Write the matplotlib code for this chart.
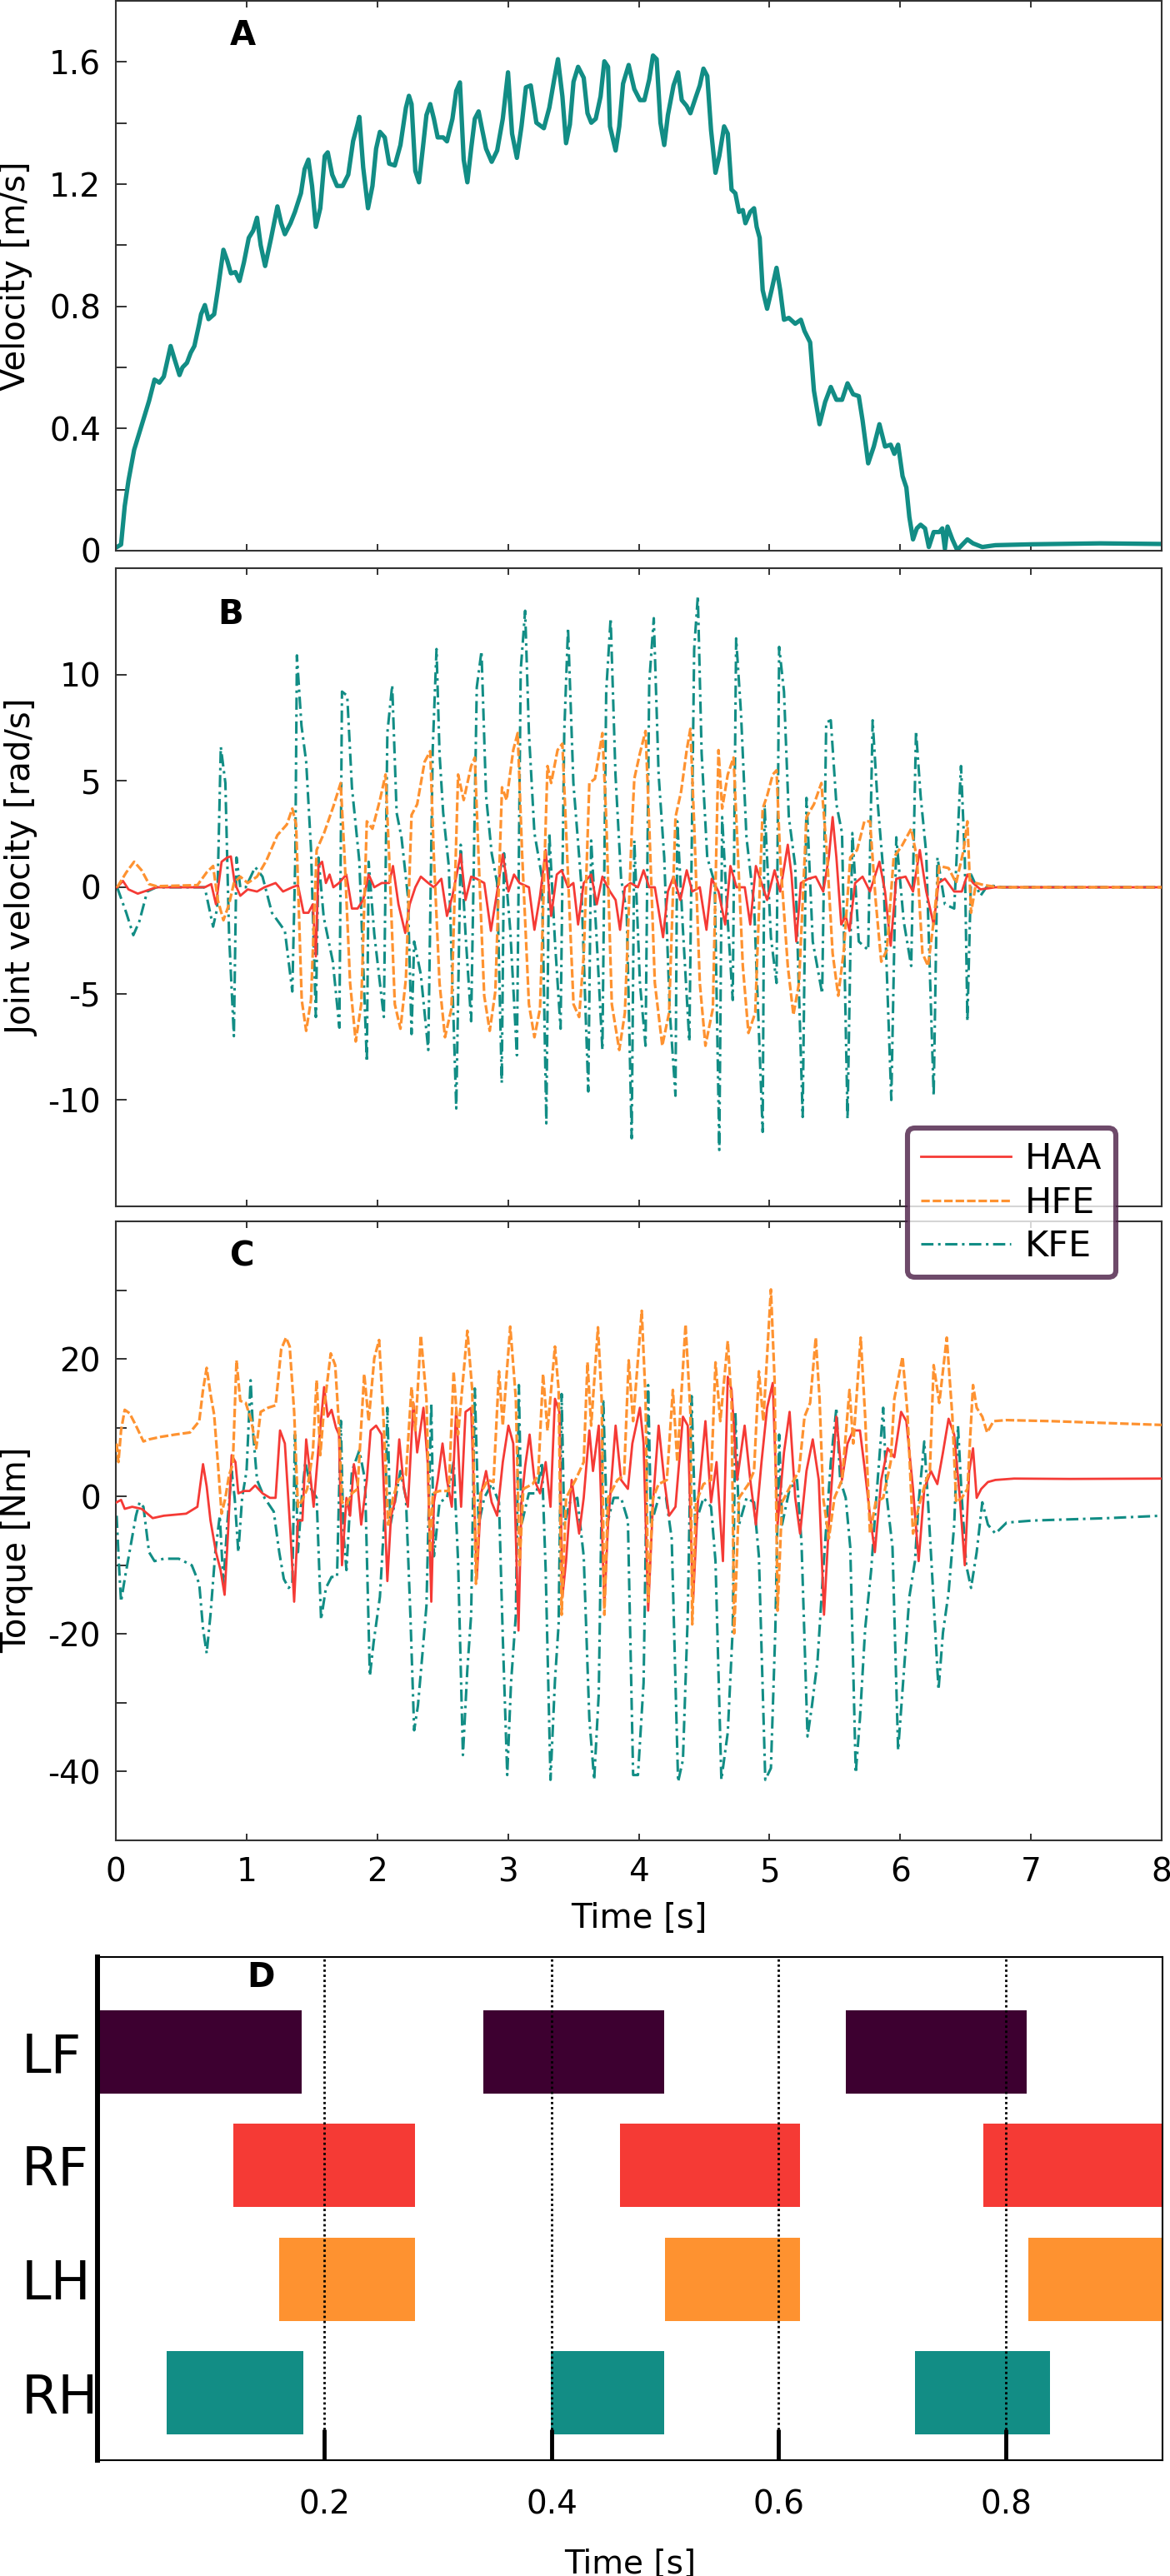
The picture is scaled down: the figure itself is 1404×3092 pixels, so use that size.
import matplotlib
matplotlib.use("Agg")
import matplotlib.pyplot as plt
from matplotlib.lines import Line2D

plt.rcParams["font.family"] = "DejaVu Sans"
plt.rcParams["axes.unicode_minus"] = False

W, H = 1404, 3092
TEAL = "#128d85"
RED = "#f53a35"
ORANGE = "#fe9230"
PLUM = "#3d0030"
SPINE = "#333333"

# ── Panel A: body velocity [m/s] (time, value) ──────────────────────────────
vel = [
    (0.0, 0.01), (0.04, 0.02), (0.068, 0.146), (0.097, 0.23), (0.14, 0.33), (0.197, 0.41),
    (0.254, 0.49), (0.296, 0.56), (0.333, 0.55), (0.367, 0.57), (0.419, 0.67), (0.447, 0.63),
    (0.487, 0.575), (0.51, 0.60), (0.544, 0.615), (0.573, 0.648), (0.601, 0.67), (0.638, 0.743),
    (0.652, 0.774), (0.681, 0.804), (0.709, 0.758), (0.752, 0.774), (0.78, 0.853), (0.823, 0.985),
    (0.852, 0.95), (0.88, 0.908), (0.915, 0.912), (0.946, 0.883), (0.98, 0.944), (1.017, 1.024),
    (1.051, 1.048), (1.08, 1.09), (1.108, 1.0), (1.142, 0.932), (1.188, 1.024), (1.236, 1.127),
    (1.265, 1.072), (1.293, 1.036), (1.336, 1.072), (1.37, 1.109), (1.416, 1.17), (1.444, 1.249),
    (1.473, 1.28), (1.501, 1.194), (1.53, 1.06), (1.564, 1.121), (1.598, 1.292), (1.621, 1.304),
    (1.655, 1.231), (1.692, 1.194), (1.735, 1.194), (1.778, 1.231), (1.815, 1.341), (1.849, 1.395),
    (1.863, 1.42), (1.892, 1.255), (1.929, 1.121), (1.963, 1.194), (1.991, 1.316), (2.02, 1.371),
    (2.057, 1.353), (2.091, 1.267), (2.134, 1.261), (2.177, 1.328), (2.219, 1.45), (2.242, 1.489),
    (2.262, 1.462), (2.291, 1.243), (2.319, 1.206), (2.348, 1.316), (2.376, 1.426), (2.405, 1.462),
    (2.433, 1.414), (2.462, 1.353), (2.504, 1.353), (2.533, 1.34), (2.575, 1.414), (2.604, 1.505),
    (2.632, 1.533), (2.661, 1.28), (2.689, 1.206), (2.718, 1.316), (2.746, 1.414), (2.775, 1.438),
    (2.803, 1.377), (2.832, 1.316), (2.875, 1.273), (2.917, 1.31), (2.96, 1.414), (2.983, 1.5),
    (3.0, 1.566), (3.031, 1.365), (3.068, 1.286), (3.103, 1.389), (3.137, 1.517), (3.174, 1.523),
    (3.217, 1.401), (3.274, 1.383), (3.316, 1.45), (3.353, 1.542), (3.382, 1.609), (3.416, 1.487),
    (3.444, 1.334), (3.473, 1.395), (3.501, 1.535), (3.536, 1.584), (3.579, 1.548), (3.608, 1.432),
    (3.637, 1.401), (3.671, 1.414), (3.708, 1.487), (3.737, 1.602), (3.765, 1.584), (3.78, 1.389),
    (3.823, 1.31), (3.851, 1.389), (3.88, 1.529), (3.923, 1.59), (3.966, 1.511), (4.009, 1.475),
    (4.043, 1.475), (4.08, 1.542), (4.109, 1.621), (4.137, 1.609), (4.166, 1.401), (4.195, 1.328),
    (4.223, 1.426), (4.266, 1.523), (4.301, 1.566), (4.329, 1.475), (4.366, 1.456), (4.395, 1.432),
    (4.438, 1.487), (4.467, 1.523), (4.495, 1.578), (4.524, 1.554), (4.553, 1.377), (4.587, 1.237),
    (4.616, 1.292), (4.653, 1.389), (4.681, 1.365), (4.71, 1.182), (4.739, 1.17), (4.767, 1.109),
    (4.796, 1.115), (4.816, 1.072), (4.853, 1.109), (4.882, 1.121), (4.902, 1.06), (4.925, 1.024),
    (4.948, 0.853), (4.982, 0.792), (5.016, 0.853), (5.054, 0.926), (5.082, 0.853), (5.111, 0.756),
    (5.148, 0.762), (5.197, 0.743), (5.24, 0.756), (5.268, 0.719), (5.311, 0.682), (5.34, 0.524),
    (5.383, 0.414), (5.426, 0.487), (5.469, 0.536), (5.512, 0.494), (5.555, 0.494), (5.597, 0.548),
    (5.64, 0.512), (5.683, 0.506), (5.712, 0.427), (5.755, 0.286), (5.798, 0.341), (5.841, 0.414),
    (5.884, 0.341), (5.927, 0.347), (5.955, 0.317), (5.984, 0.347), (6.018, 0.244), (6.047, 0.207),
    (6.07, 0.11), (6.098, 0.037), (6.127, 0.073), (6.156, 0.085), (6.19, 0.073), (6.219, 0.012),
    (6.256, 0.061), (6.299, 0.061), (6.322, 0.073), (6.342, 0.006), (6.362, 0.079), (6.399, 0.037),
    (6.436, 0.002), (6.471, 0.018), (6.514, 0.037), (6.557, 0.024), (6.628, 0.012), (6.728, 0.018),
    (7.015, 0.021), (7.53, 0.024), (8.0, 0.022),
]

# ── Panel B: joint velocities [rad/s] ───────────────────────────────────────
jv_haa = [
    (0.01, 0), (0.054, 0.3), (0.097, -0.1), (0.168, -0.3), (0.24, -0.15), (0.31, 0), (0.68, 0),
    (0.73, 0.15), (0.766, -0.8), (0.809, 1.2), (0.852, 1.4), (0.88, 1.45), (0.909, 0.2),
    (0.952, -0.4), (1.009, -0.1), (1.08, -0.2), (1.137, 0), (1.222, 0.2), (1.279, -0.2),
    (1.35, 0), (1.393, 0.1), (1.436, -1.2), (1.473, -1.2), (1.507, -0.8), (1.53, -3.25),
    (1.55, 1.0), (1.578, 1.2), (1.607, 0.2), (1.635, 0.6), (1.664, 0), (1.707, 0.2),
    (1.763, 0.6), (1.806, -1.0), (1.849, -1.0), (1.892, -0.6), (1.934, 0.6), (1.977, 0),
    (2.034, 0.2), (2.091, 0.2), (2.12, 1.0), (2.162, -0.8), (2.214, -2.15), (2.248, -0.8),
    (2.291, 0), (2.333, 0.5), (2.39, 0.2), (2.433, 0), (2.49, 0.4), (2.533, -1.35),
    (2.575, -0.4), (2.638, 1.55), (2.675, -0.6), (2.718, 0.5), (2.76, 0.4), (2.818, 0.2),
    (2.869, -2.05), (2.917, -0.2), (2.96, 1.55), (3.003, -0.2), (3.046, 0.6), (3.088, 0.2),
    (3.16, 0), (3.202, -2.0), (3.245, -0.4), (3.288, 1.75), (3.33, -1.35), (3.373, 0.6),
    (3.41, 0.8), (3.459, 0), (3.5, 0.2), (3.536, -1.75), (3.579, 0.2), (3.636, 0.6),
    (3.679, -0.8), (3.722, 0.5), (3.78, -0.2), (3.823, -0.6), (3.857, -2.0), (3.894, 0),
    (3.937, 0.2), (3.994, 0), (4.037, 0.8), (4.08, 0), (4.123, 0), (4.186, -2.35),
    (4.223, -0.2), (4.266, 0.5), (4.318, -0.6), (4.367, 0.8), (4.409, -0.2), (4.467, 0),
    (4.518, -2.0), (4.558, 0.4), (4.61, -0.2), (4.661, -1.75), (4.701, 1.0), (4.748, 0),
    (4.811, 0), (4.853, -1.75), (4.896, 1.0), (4.939, 0.2), (4.982, -0.6), (5.039, 0.8),
    (5.082, -0.2), (5.14, 2.0), (5.168, 0.6), (5.205, -2.55), (5.24, 0.2), (5.297, 0.4),
    (5.354, 0.5), (5.411, -0.2), (5.454, 1.4), (5.483, 3.3), (5.512, 1.4), (5.549, -1.75),
    (5.583, -1.35), (5.612, -2.05), (5.655, 0.2), (5.712, 0.5), (5.769, -0.2), (5.841, 1.2),
    (5.884, -0.2), (5.927, -2.75), (5.97, 0.4), (6.041, 0.5), (6.098, -0.2), (6.15, 1.75),
    (6.199, -0.2), (6.256, -1.75), (6.293, 0.2), (6.342, 0.4), (6.413, -0.2), (6.471, -0.2),
    (6.514, 0.6), (6.557, 0.2), (6.614, -0.1), (6.728, 0), (8.0, 0),
]
jv_hfe = [
    (0.01, 0), (0.08, 0.7), (0.14, 1.2), (0.197, 0.8), (0.254, 0.15), (0.31, 0.05), (0.624, 0.1),
    (0.695, 0.7), (0.744, 1.0), (0.78, -0.6), (0.823, -1.55), (0.866, -0.8), (0.903, 0.2),
    (0.952, 0.5), (1.009, 0.2), (1.08, 0.5), (1.151, 1.25), (1.236, 2.45), (1.308, 2.95),
    (1.35, 3.7), (1.379, 2.95), (1.422, -5.3), (1.456, -6.75), (1.493, -5.3), (1.536, 1.75),
    (1.593, 2.55), (1.664, 3.8), (1.72, 4.9), (1.75, 1.4), (1.792, -4.5), (1.835, -7.25),
    (1.877, -5.5), (1.92, 3.1), (1.963, 2.75), (2.02, 4.1), (2.063, 5.3), (2.091, 1.4),
    (2.134, -5.5), (2.177, -6.65), (2.219, -4.3), (2.262, 3.4), (2.305, 3.9), (2.362, 5.9),
    (2.405, 6.4), (2.433, 1.4), (2.476, -4.5), (2.518, -7.05), (2.567, -5.7), (2.618, 5.3),
    (2.661, 4.1), (2.718, 5.7), (2.746, 6.1), (2.775, 1.4), (2.818, -5.1), (2.86, -6.75),
    (2.903, -4.9), (2.954, 4.7), (2.989, 4.1), (3.04, 6.45), (3.074, 7.25), (3.108, 1.55),
    (3.16, -5.5), (3.202, -7.05), (3.245, -5.7), (3.302, 5.7), (3.33, 4.9), (3.379, 6.45),
    (3.416, 6.75), (3.453, 1.4), (3.501, -5.5), (3.544, -6.1), (3.58, -3.1), (3.622, 4.9),
    (3.665, 5.1), (3.722, 7.25), (3.751, 3.3), (3.794, -5.5), (3.851, -7.65), (3.894, -5.9),
    (3.946, 2.55), (3.966, 5.1), (4.009, 6.3), (4.052, 7.35), (4.08, 2.95), (4.123, -4.5),
    (4.18, -7.45), (4.232, -5.9), (4.281, 3.3), (4.324, 4.5), (4.367, 6.45), (4.395, 7.45),
    (4.424, 2.95), (4.467, -4.5), (4.51, -7.45), (4.567, -5.7), (4.61, 6.45), (4.638, 3.7),
    (4.681, 5.3), (4.725, 6.1), (4.753, 2.35), (4.796, -3.7), (4.839, -6.85), (4.891, -5.9),
    (4.948, 3.7), (4.982, 4.3), (5.025, 5.3), (5.054, 5.5), (5.082, 1.4), (5.14, -3.7),
    (5.183, -6.0), (5.226, -4.5), (5.283, 3.3), (5.34, 3.9), (5.397, 4.9), (5.44, 1.55),
    (5.483, -3.1), (5.526, -5.1), (5.569, -2.95), (5.618, 1.4), (5.67, 1.75), (5.726, 3.1),
    (5.769, 3.1), (5.812, -0.6), (5.855, -3.5), (5.898, -2.95), (5.95, 1.4), (6.013, 1.95),
    (6.084, 2.75), (6.127, 1.4), (6.17, -3.1), (6.213, -3.7), (6.256, -1.6), (6.299, 1.0),
    (6.37, 0.9), (6.428, 0.2), (6.485, 1.75), (6.514, 3.1), (6.542, -1.2), (6.58, 0.2),
    (6.642, 0.1), (6.757, 0), (8.0, 0),
]
jv_kfe = [
    (0.01, 0), (0.08, -1.2), (0.134, -2.25), (0.18, -1.6), (0.24, -0.2), (0.31, 0), (0.68, 0),
    (0.744, -1.85), (0.775, -1.0), (0.803, 6.6), (0.838, 4.9), (0.866, -2.2), (0.903, -7.0),
    (0.923, 1.4), (0.952, 0), (0.994, 0), (1.066, 0.95), (1.122, 0.5), (1.194, -1.2),
    (1.293, -2.05), (1.35, -4.9), (1.373, 1.4), (1.385, 10.9), (1.42, 7.6), (1.456, 5.9),
    (1.493, 1.8), (1.53, -6.1), (1.55, 1.4), (1.59, -1.4), (1.66, -3.5), (1.71, -6.6),
    (1.73, 9.2), (1.77, 9.0), (1.806, 4.7), (1.863, 1.2), (1.92, -8.2), (1.934, 1.2),
    (1.977, -2.2), (2.05, -6.1), (2.077, 7.25), (2.114, 9.5), (2.148, 3.5), (2.185, 2.35),
    (2.234, -0.4), (2.262, -6.9), (2.282, -2.55), (2.333, -4.1), (2.39, -7.65), (2.424, 6.5),
    (2.453, 11.2), (2.476, 6.3), (2.504, 3.5), (2.547, 1.0), (2.604, -10.4), (2.638, 2.0),
    (2.675, -2.2), (2.718, -6.3), (2.761, 9.4), (2.797, 11.1), (2.832, 4.3), (2.875, 1.6),
    (2.917, 0.2), (2.952, -9.2), (2.969, 1.6), (3.017, -2.0), (3.068, -7.9), (3.097, 10.2),
    (3.131, 13.0), (3.16, 7.25), (3.202, 2.55), (3.259, 0.5), (3.293, -11.1), (3.316, 2.55),
    (3.359, -2.55), (3.402, -6.65), (3.43, 7.25), (3.459, 12.2), (3.5, 4.9), (3.56, 0.2),
    (3.614, -9.6), (3.636, 2.2), (3.679, -2.55), (3.722, -7.65), (3.751, 9.2), (3.785, 12.65),
    (3.822, 5.3), (3.865, 0.4), (3.908, -1.2), (3.946, -11.8), (3.966, 2.2), (4.009, -4.5),
    (4.052, -7.45), (4.08, 9.6), (4.115, 12.65), (4.152, 5.3), (4.195, 1.4), (4.238, -5.9),
    (4.281, -9.8), (4.295, 3.1), (4.338, -2.0), (4.387, -7.25), (4.424, 11.2), (4.452, 13.7),
    (4.481, 6.3), (4.524, 1.4), (4.581, 0.2), (4.616, -12.35), (4.638, 3.3), (4.681, -1.6),
    (4.719, -5.3), (4.745, 11.7), (4.782, 8.2), (4.824, 2.35), (4.882, -0.8), (4.948, -11.5),
    (4.962, 3.9), (5.011, -2.35), (5.054, -4.5), (5.074, 11.3), (5.111, 9.2), (5.148, 3.3),
    (5.197, 1.0), (5.254, -10.8), (5.283, 4.2), (5.331, -2.55), (5.403, -5.0), (5.434, 7.75),
    (5.469, 7.85), (5.512, 3.9), (5.555, 2.55), (5.597, -10.9), (5.634, 2.55), (5.683, -2.55),
    (5.755, -2.95), (5.789, 7.85), (5.826, 4.1), (5.87, 0.8), (5.932, -10.0), (5.97, 2.35),
    (6.027, -1.6), (6.084, -3.7), (6.121, 7.35), (6.156, 4.3), (6.199, 1.6), (6.256, -9.8),
    (6.285, 1.4), (6.342, -0.8), (6.413, -1.0), (6.465, 5.7), (6.494, 1.4), (6.514, -6.3),
    (6.542, 0.6), (6.614, -0.4), (6.671, 0.1), (6.786, 0), (8.0, 0),
]

# ── Panel C: joint torques [Nm] ─────────────────────────────────────────────
tq_haa = [
    (0.006, -0.85), (0.04, -0.5), (0.068, -1.8), (0.125, -1.5), (0.197, -1.8), (0.282, -3.15),
    (0.367, -2.8), (0.538, -2.5), (0.624, -1.5), (0.667, 4.7), (0.695, 1.45), (0.724, -3.5),
    (0.766, -8.1), (0.801, -10.7), (0.832, -14.3), (0.858, -5.4), (0.886, 6.0), (0.915, 5.0),
    (0.937, 0.45), (0.98, 0.8), (1.023, 0.8), (1.066, 1.6), (1.122, 0.45), (1.179, -0.2),
    (1.222, -0.2), (1.256, 9.6), (1.293, 7.7), (1.336, -5.4), (1.364, -15.3), (1.393, -3.5),
    (1.427, -3.5), (1.456, 8.3), (1.484, 3.7), (1.513, -1.5), (1.55, 7.0), (1.593, 15.9),
    (1.621, 11.6), (1.65, 12.6), (1.684, 10.0), (1.707, 9.0), (1.73, -10.0), (1.764, -0.2),
    (1.792, -2.8), (1.821, 4.7), (1.849, 1.8), (1.877, -4.1), (1.92, 2.4), (1.949, 9.6),
    (1.991, 10.3), (2.034, 9.0), (2.077, -12.3), (2.105, -2.8), (2.134, -0.85), (2.168, 8.3),
    (2.205, 1.1), (2.234, -1.5), (2.276, 13.6), (2.305, 6.4), (2.353, 12.9), (2.385, 5.0),
    (2.413, -15.3), (2.433, -0.85), (2.462, 2.4), (2.499, 7.7), (2.533, 2.4), (2.57, -1.5),
    (2.604, 12.9), (2.641, -1.5), (2.675, 12.3), (2.718, 12.9), (2.761, -12.0), (2.795, 0.45),
    (2.832, 3.7), (2.875, -0.85), (2.917, -2.8), (2.96, 5.0), (3.003, 10.3), (3.04, 7.7),
    (3.08, -19.5), (3.103, -0.85), (3.131, 4.4), (3.165, 9.0), (3.202, 2.4), (3.245, 0.45),
    (3.288, 5.0), (3.325, -1.5), (3.359, 14.2), (3.393, 12.3), (3.416, -14.6), (3.444, -9.4),
    (3.487, 2.4), (3.544, -5.4), (3.579, -0.2), (3.622, 9.6), (3.65, 3.7), (3.694, 10.3),
    (3.737, -15.9), (3.765, -4.1), (3.823, 10.3), (3.865, 2.4), (3.917, 1.1), (3.951, 7.7),
    (4.009, 12.9), (4.037, 7.7), (4.072, -16.6), (4.109, -0.85), (4.152, 10.3), (4.195, 2.4),
    (4.232, -2.8), (4.281, -1.5), (4.338, 11.6), (4.375, 10.3), (4.415, -15.3), (4.452, -0.85),
    (4.51, 10.95), (4.553, -0.85), (4.595, 5.0), (4.644, -9.4), (4.681, 17.4), (4.71, 15.5),
    (4.753, 2.4), (4.81, 10.3), (4.853, 2.4), (4.896, -4.1), (4.939, 5.0), (4.982, 12.9),
    (5.025, 16.5), (5.062, -4.1), (5.111, 6.4), (5.154, 12.3), (5.197, -0.2), (5.234, -5.4),
    (5.283, 3.7), (5.331, 8.3), (5.377, 2.4), (5.417, -17.2), (5.454, -4.1), (5.512, 11.6),
    (5.555, 2.4), (5.597, 7.7), (5.64, 9.6), (5.692, 9.6), (5.726, 4.4), (5.769, -2.8),
    (5.806, -8.1), (5.855, 2.4), (5.904, 7.0), (5.955, 5.7), (6.007, 12.3), (6.047, 10.95),
    (6.098, 1.1), (6.141, -9.4), (6.184, 1.1), (6.235, 3.7), (6.284, 1.8), (6.327, 6.4),
    (6.37, 11.3), (6.413, 9.0), (6.456, -0.2), (6.494, -10.0), (6.528, 3.7), (6.557, 7.0),
    (6.585, -0.2), (6.62, 1.1), (6.671, 2.1), (6.728, 2.4), (6.871, 2.6), (7.3, 2.55), (8.0, 2.6),
]
tq_hfe = [
    (0.006, 7.7), (0.02, 5.0), (0.04, 9.6), (0.068, 12.6), (0.105, 12.1), (0.154, 10.3),
    (0.211, 8.0), (0.254, 8.3), (0.339, 8.65), (0.453, 9.0), (0.567, 9.3), (0.638, 10.95),
    (0.667, 15.5), (0.695, 18.7), (0.724, 14.9), (0.752, 11.9), (0.78, 5.0), (0.809, -2.5),
    (0.838, -0.2), (0.866, 3.1), (0.895, 4.7), (0.923, 19.8), (0.952, 13.9), (0.994, 13.6),
    (1.037, 10.95), (1.074, 7.0), (1.108, 12.3), (1.165, 12.9), (1.222, 13.25), (1.265, 21.4),
    (1.302, 23.1), (1.33, 21.8), (1.364, 12.3), (1.393, -1.5), (1.427, -0.5), (1.464, 1.1),
    (1.507, 6.4), (1.536, 16.9), (1.564, 6.0), (1.593, 12.9), (1.644, 20.8), (1.678, 19.1),
    (1.707, 10.3), (1.73, -0.85), (1.764, -1.2), (1.806, 0.45), (1.849, 1.1), (1.9, 17.8),
    (1.934, 10.95), (1.977, 20.1), (2.014, 22.75), (2.048, 10.95), (2.083, -4.1), (2.12, -0.2),
    (2.162, 2.4), (2.219, 3.1), (2.262, 15.9), (2.291, 9.6), (2.333, 23.4), (2.376, 14.2),
    (2.405, -8.1), (2.425, 0.45), (2.476, 0.8), (2.547, 0.8), (2.584, 18.2), (2.618, 9.0),
    (2.689, 24.1), (2.726, 15.5), (2.755, -12.7), (2.789, 0.45), (2.846, 2.4), (2.889, 2.1),
    (2.931, 18.2), (2.96, 10.3), (3.017, 24.7), (3.06, 14.2), (3.088, -10.0), (3.117, 1.1),
    (3.188, 1.8), (3.231, 3.1), (3.268, 17.8), (3.302, 9.6), (3.359, 21.8), (3.387, 15.5),
    (3.41, -17.2), (3.444, -0.2), (3.516, 2.4), (3.579, 5.0), (3.608, 19.5), (3.636, 10.3),
    (3.688, 24.6), (3.716, 14.2), (3.737, -17.2), (3.765, -0.2), (3.837, 2.4), (3.888, 3.1),
    (3.923, 19.8), (3.957, 10.95), (4.023, 27.0), (4.052, 14.2), (4.072, -15.3), (4.109, -0.2),
    (4.152, 1.8), (4.215, 2.4), (4.261, 15.5), (4.295, 5.0), (4.358, 25.0), (4.395, 12.3),
    (4.409, -18.6), (4.438, -0.85), (4.495, 1.8), (4.553, 2.4), (4.587, 19.5), (4.624, 10.95),
    (4.681, 22.6), (4.71, 13.6), (4.73, -19.9), (4.767, -0.2), (4.839, 1.8), (4.882, 3.7),
    (4.919, 18.2), (4.953, 10.95), (5.011, 30.1), (5.039, 16.9), (5.062, -16.6), (5.096, -0.85),
    (5.168, 1.8), (5.226, 3.7), (5.268, 11.6), (5.311, 13.6), (5.354, 23.1), (5.383, 14.2),
    (5.411, -0.2), (5.454, -6.1), (5.497, -0.2), (5.555, 2.4), (5.612, 15.5), (5.641, 7.7),
    (5.698, 23.1), (5.732, 11.6), (5.769, -5.4), (5.812, -0.85), (5.87, -0.2), (5.927, 5.0),
    (5.955, 14.2), (6.018, 20.3), (6.055, 12.3), (6.098, -5.4), (6.141, -1.5), (6.199, 2.4),
    (6.227, 3.7), (6.256, 19.1), (6.299, 13.6), (6.356, 23.1), (6.399, 11.6), (6.428, -0.85),
    (6.471, -0.2), (6.514, 1.1), (6.557, 16.2), (6.585, 12.9), (6.628, 11.6), (6.665, 9.3),
    (6.714, 10.95), (6.814, 11.1), (7.158, 10.95), (8.0, 10.4),
]
tq_kfe = [
    (0.006, -2.8), (0.026, -10.7), (0.04, -15.3), (0.068, -12.0), (0.111, -7.4), (0.154, -2.8),
    (0.182, -0.85), (0.211, -1.5), (0.254, -8.1), (0.296, -9.4), (0.367, -9.05), (0.481, -9.05),
    (0.581, -10.0), (0.638, -12.7), (0.667, -19.2), (0.695, -22.8), (0.724, -17.2), (0.761, -8.1),
    (0.795, -2.8), (0.823, -12.7), (0.852, -4.1), (0.886, 3.7), (0.909, -0.2), (0.937, -8.1),
    (0.966, -0.2), (1.0, 3.7), (1.031, 16.9), (1.051, 9.0), (1.08, 2.4), (1.137, -0.2),
    (1.208, -2.2), (1.25, -8.1), (1.285, -12.0), (1.322, -13.3), (1.35, -12.7), (1.37, 9.0),
    (1.393, -8.1), (1.422, -0.2), (1.45, 5.0), (1.493, 1.1), (1.536, -0.2), (1.57, -17.9),
    (1.607, -13.3), (1.65, -11.7), (1.692, -11.7), (1.721, 11.0), (1.741, -5.4), (1.764, -10.7),
    (1.806, 3.7), (1.863, 6.7), (1.906, 2.4), (1.943, -26.1), (1.972, -21.2), (2.02, -14.6),
    (2.063, -0.2), (2.077, 12.9), (2.1, -4.1), (2.134, -0.85), (2.177, 3.7), (2.219, -0.2),
    (2.253, -17.2), (2.282, -34.0), (2.311, -30.4), (2.347, -22.5), (2.376, -15.9), (2.413, 13.6),
    (2.433, -8.7), (2.476, -0.85), (2.533, -0.2), (2.584, 5.0), (2.618, -9.4), (2.655, -37.6),
    (2.689, -25.1), (2.718, -17.2), (2.746, 15.7), (2.775, -4.1), (2.818, -0.2), (2.875, 1.8),
    (2.931, -0.85), (2.96, -20.5), (2.994, -40.5), (3.023, -27.1), (3.06, -17.2), (3.083, 16.2),
    (3.103, -4.1), (3.159, 0.45), (3.217, 0.45), (3.259, 5.0), (3.288, -10.7), (3.325, -41.2),
    (3.359, -26.8), (3.387, -18.6), (3.41, 14.9), (3.43, -4.1), (3.473, -0.85), (3.53, -0.2),
    (3.579, -8.7), (3.622, -32.3), (3.659, -41.2), (3.694, -28.7), (3.728, 14.2), (3.757, -4.1),
    (3.808, -0.2), (3.865, -0.2), (3.917, -3.5), (3.957, -40.5), (3.994, -40.5), (4.037, -27.1),
    (4.072, 16.2), (4.094, -4.1), (4.152, -0.2), (4.209, -0.2), (4.252, -6.1), (4.301, -41.5),
    (4.338, -38.3), (4.375, -17.2), (4.404, 14.6), (4.432, -4.1), (4.495, -0.2), (4.553, -1.5),
    (4.587, -9.4), (4.632, -41.2), (4.681, -34.3), (4.719, -19.2), (4.739, 12.3), (4.767, -4.1),
    (4.825, -0.2), (4.882, -0.85), (4.919, -8.7), (4.968, -41.2), (5.011, -39.5), (5.045, -19.2),
    (5.074, 9.0), (5.096, -4.1), (5.154, 1.1), (5.211, 2.4), (5.245, -6.75), (5.291, -34.9),
    (5.325, -30.4), (5.368, -23.8), (5.411, -10.7), (5.469, 5.0), (5.512, 12.9), (5.541, 2.4),
    (5.583, -0.2), (5.618, -7.4), (5.66, -40.2), (5.692, -32.3), (5.732, -19.2), (5.778, -10.7),
    (5.812, -1.5), (5.87, 12.9), (5.898, -0.2), (5.941, -7.4), (5.984, -36.9), (6.027, -25.8),
    (6.07, -14.6), (6.113, -9.4), (6.141, -0.85), (6.184, 8.0), (6.213, -0.85), (6.256, -15.3),
    (6.293, -28.1), (6.327, -19.8), (6.37, -14.0), (6.413, -4.1), (6.442, 10.3), (6.471, -0.2),
    (6.505, -10.0), (6.542, -13.3), (6.585, -8.1), (6.628, -0.85), (6.671, -4.1), (6.728, -5.4),
    (6.814, -3.8), (7.015, -3.5), (7.588, -3.15), (8.0, -2.8),
]

# ── Panel D: stance phases [s] (start, end) per leg ────────────────────────
legs = ["RH", "LH", "RF", "LF"]
stance = {
    "LF": [(0.0, 0.18), (0.34, 0.499), (0.659, 0.818)],
    "RF": [(0.12, 0.28), (0.46, 0.619), (0.78, 0.96)],
    "LH": [(0.16, 0.28), (0.50, 0.619), (0.82, 0.96)],
    "RH": [(0.061, 0.181), (0.399, 0.499), (0.72, 0.839)],
}
leg_colors = {"LF": PLUM, "RF": RED, "LH": ORANGE, "RH": TEAL}
gait_marks = [0.2, 0.4, 0.6, 0.8]


def box(l, t, r, b):
    return [l / W, 1 - b / H, (r - l) / W, (b - t) / H]


def style_axis(ax):
    for s in ax.spines.values():
        s.set_color(SPINE)
        s.set_linewidth(1.5)
    ax.tick_params(axis="x", which="both", direction="in", top=True, bottom=True,
                   length=6, width=1.4, color=SPINE, labelsize=28, pad=14)
    ax.tick_params(axis="y", which="both", direction="in", left=True, right=False,
                   length=9.5, width=1.4, color=SPINE, labelsize=28, pad=13)
    ax.set_xlim(0, 8)
    ax.set_xticks(range(9))


fig = plt.figure(figsize=(W / 100, H / 100), dpi=100)
axA = fig.add_axes(box(139, 1, 1394, 661))
axB = fig.add_axes(box(139, 682, 1394, 1448))
axC = fig.add_axes(box(139, 1466, 1394, 2209))
axD = fig.add_axes(box(117, 2349, 1395, 2953))

# ── A ──
style_axis(axA)
t, v = zip(*vel)
axA.plot(t, v, color=TEAL, lw=3.8, solid_joinstyle="round")
axA.set_ylim(0, 1.8)
axA.set_yticks([0, 0.4, 0.8, 1.2, 1.6])
axA.set_yticklabels(["0", "0.4", "0.8", "1.2", "1.6"])
axA.set_yticks([0.2, 0.6, 1.0, 1.4], minor=True)
axA.tick_params(labelbottom=False)
axA.set_ylabel("Velocity [m/s]", fontsize=29)
axA.yaxis.set_label_coords(-0.080, 0.5)
axA.text(0.97, 1.685, "A", fontsize=29, fontweight="bold", ha="center", va="center")

# ── B & C ──
styles = {
    "HAA": dict(color=RED, lw=2.0, ls="-", zorder=3),
    "HFE": dict(color=ORANGE, lw=2.3, dashes=(3.2, 1.1), zorder=4),
    "KFE": dict(color=TEAL, lw=2.2, dashes=(4.8, 1.8, 1.0, 1.8), zorder=2),
}

style_axis(axB)
for name, series in [("HAA", jv_haa), ("HFE", jv_hfe), ("KFE", jv_kfe)]:
    t, v = zip(*series)
    axB.plot(t, v, label=name, **styles[name])
axB.set_ylim(-15, 15)
axB.set_yticks([-10, -5, 0, 5, 10])
axB.tick_params(labelbottom=False)
axB.set_ylabel("Joint velocity [rad/s]", fontsize=29)
axB.yaxis.set_label_coords(-0.073, 0.53)
axB.text(0.88, 12.8, "B", fontsize=29, fontweight="bold", ha="center", va="center")

style_axis(axC)
for name, series in [("HAA", tq_haa), ("HFE", tq_hfe), ("KFE", tq_kfe)]:
    t, v = zip(*series)
    axC.plot(t, v, label=name, **styles[name])
axC.set_ylim(-50, 40)
axC.set_yticks([-40, -20, 0, 20])
axC.set_yticks([-30, -10, 10, 30], minor=True)
axC.set_ylabel("Torque [Nm]", fontsize=29)
axC.yaxis.set_label_coords(-0.0785, 0.47)
axC.set_xlabel("Time [s]", fontsize=29, labelpad=12)
axC.text(0.97, 34.8, "C", fontsize=29, fontweight="bold", ha="center", va="center")

handles = [Line2D([], [], **{k: val for k, val in styles[n].items() if k != "zorder"}) for n in styles]
leg = fig.legend(handles, list(styles), loc="upper left",
                 bbox_to_anchor=(1089 / W, 1 - 1354 / H), borderaxespad=0,
                 fontsize=31, handlelength=2.5, handletextpad=0.4,
                 labelspacing=0.24, borderpad=0.38, fancybox=True, framealpha=0.8)
leg.get_frame().set_edgecolor("#4a1d45")
leg.get_frame().set_linewidth(4.4)

# ── D ──
for i, leg_name in enumerate(legs):
    spans = [(s, e - s) for s, e in stance[leg_name]]
    axD.broken_barh(spans, (i - 0.367, 0.733), facecolors=leg_colors[leg_name])
for x in gait_marks:
    axD.axvline(x, color="black", lw=2.0, dashes=(1, 1.2), zorder=3)
axD.set_xlim(0, 0.938)
axD.set_ylim(-0.594, 3.836)
axD.set_yticks(range(len(legs)))
axD.set_yticklabels(legs, fontsize=46, ha="left")
axD.tick_params(axis="y", length=0, pad=65.5)
axD.set_xticks(gait_marks)
axD.set_xticklabels([f"{x:.1f}" for x in gait_marks])
axD.tick_params(axis="x", direction="in", top=False, length=27, width=3.5,
                color="black", labelsize=28, pad=25)
for side, s in axD.spines.items():
    s.set_color("black")
    s.set_linewidth(4.3 if side == "left" else 1.5)
axD.set_xlabel("Time [s]", fontsize=28, labelpad=24)
axD.text(0.144, 3.65, "D", fontsize=29, fontweight="bold", ha="center", va="center")

fig.savefig("out.png", dpi=100)
